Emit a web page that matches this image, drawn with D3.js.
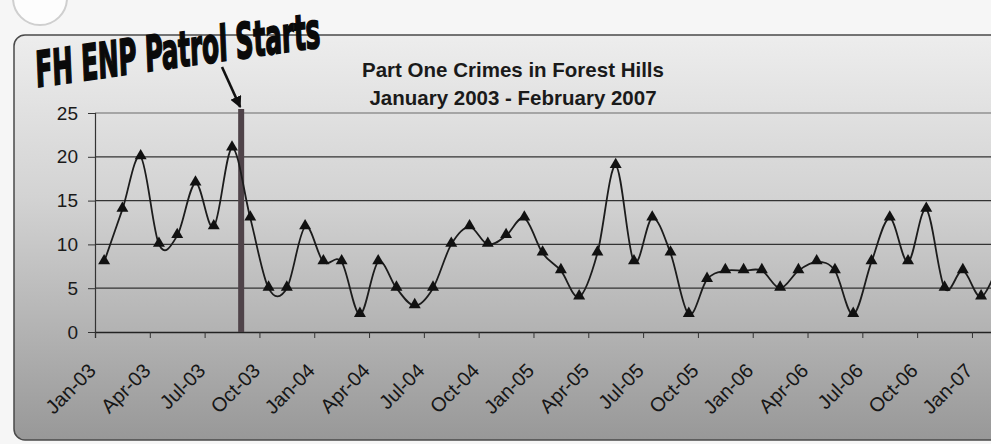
<!DOCTYPE html>
<html lang="en">
<head>
    <meta charset="utf-8">
    <script src="https://cdn.jsdelivr.net/npm/d3@7"></script>
    <style type="text/css">
        body { margin: 0; background: #f6f6f6; }
        svg { display: block; font-family: "Liberation Sans", Arial, sans-serif; }
    </style>
</head>
<body>
    <script>
        // monthly Part One crimes, Jan-03 .. Feb-07
        let months = ["Jan-03","Feb-03","Mar-03","Apr-03","May-03","Jun-03","Jul-03","Aug-03","Sep-03","Oct-03","Nov-03","Dec-03",
                      "Jan-04","Feb-04","Mar-04","Apr-04","May-04","Jun-04","Jul-04","Aug-04","Sep-04","Oct-04","Nov-04","Dec-04",
                      "Jan-05","Feb-05","Mar-05","Apr-05","May-05","Jun-05","Jul-05","Aug-05","Sep-05","Oct-05","Nov-05","Dec-05",
                      "Jan-06","Feb-06","Mar-06","Apr-06","May-06","Jun-06","Jul-06","Aug-06","Sep-06","Oct-06","Nov-06","Dec-06",
                      "Jan-07","Feb-07"];
        let crimes = [8,14,20,10,11,17,12,21,13,5,5,12,
                      8,8,2,8,5,3,5,10,12,10,11,13,
                      9,7,4,9,19,8,13,9,2,6,7,7,
                      7,5,7,8,7,2,8,13,8,14,5,7,
                      4,8];
        let yTicks = [0,5,10,15,20,25];
        let xTickMonths = ["Jan-03","Apr-03","Jul-03","Oct-03","Jan-04","Apr-04","Jul-04","Oct-04",
                           "Jan-05","Apr-05","Jul-05","Oct-05","Jan-06","Apr-06","Jul-06","Oct-06","Jan-07"];
        // patrol began between Aug-03 and Sep-03
        let patrolAfter = "Aug-03";
        let patrolHeight = 25;

        let w = 991;
        let h = 444;
        let svg = d3.select("body")
                    .append("svg")
                    .attr("width", w)
                    .attr("height", h);

        let defs = svg.append("defs");
        let grad = defs.append("linearGradient")
                    .attr("id", "bg")
                    .attr("x1", 0).attr("y1", 0).attr("x2", 0).attr("y2", 1);
        grad.append("stop").attr("offset", "0%").attr("stop-color", "#ededed");
        grad.append("stop").attr("offset", "40%").attr("stop-color", "#d3d3d3");
        grad.append("stop").attr("offset", "100%").attr("stop-color", "#989898");

        // hole punch
        svg.append("circle")
            .attr("cx", 40).attr("cy", -2).attr("r", 27)
            .attr("fill", "#fdfdfd")
            .attr("stroke", "#cfcfcf")
            .attr("stroke-width", 2);

        // frame
        svg.append("rect")
            .attr("x", 14).attr("y", 35)
            .attr("width", 1010).attr("height", 405)
            .attr("rx", 11)
            .attr("fill", "url(#bg)")
            .attr("stroke", "#4a4a4a")
            .attr("stroke-width", 1.5);

        let padLeft = 95, padBottom = 332, padTop = 113, step = 18.27;

        let xScale = d3.scaleLinear()
                        .domain([-0.5, months.length - 0.5])
                        .range([padLeft, padLeft + months.length * step]);
        let yScale = d3.scaleLinear()
                        .domain([0, 25])
                        .range([padBottom, padTop]);

        // gridlines
        svg.append("g")
            .selectAll("line")
            .data(yTicks.slice(1))
            .enter()
            .append("line")
            .attr("x1", padLeft).attr("x2", w)
            .attr("y1", (d) => yScale(d)).attr("y2", (d) => yScale(d))
            .attr("stroke", (d) => d == 25 ? "#6a6a6a" : "#333")
            .attr("stroke-width", 1.2);

        // y axis
        let yAxis = d3.axisLeft(yScale).tickValues(yTicks).tickSize(7).tickPadding(10);
        let gy = svg.append("g")
            .attr("transform", "translate(" + padLeft + ",0)")
            .call(yAxis);
        gy.select(".domain").attr("stroke", "#333").attr("stroke-width", 1.2);
        gy.selectAll(".tick line").attr("stroke", "#333");
        gy.selectAll("text").attr("font-size", "19px").attr("fill", "#1a1a1a");

        // x axis, ticks on month boundaries every quarter
        let xAxis = d3.axisBottom(xScale)
                    .tickValues(xTickMonths.map((m) => months.indexOf(m) - 0.5))
                    .tickSize(6)
                    .tickFormat("");
        let gx = svg.append("g")
            .attr("transform", "translate(0," + padBottom + ")")
            .call(xAxis);
        gx.select(".domain").attr("stroke", "#222").attr("stroke-width", 1.3);
        gx.selectAll(".tick line").attr("stroke", "#333");

        svg.append("g")
            .selectAll("text")
            .data(xTickMonths)
            .enter()
            .append("text")
            .attr("transform", (d) => "translate(" + (xScale(months.indexOf(d) - 0.5) + 2) + "," + (padBottom + 40) + ") rotate(-45)")
            .attr("text-anchor", "end")
            .attr("font-size", "20px")
            .attr("fill", "#161616")
            .text((d) => d);

        // patrol start bar
        let px = (xScale(months.indexOf(patrolAfter)) + xScale(months.indexOf(patrolAfter) + 1)) / 2;
        svg.append("rect")
            .attr("x", px - 3)
            .attr("y", yScale(patrolHeight) - 4)
            .attr("width", 6)
            .attr("height", yScale(0) - yScale(patrolHeight) + 4)
            .attr("fill", "#4f4349");

        // crime line
        let line = d3.line()
                    .x((d, i) => xScale(i))
                    .y((d) => yScale(d))
                    .curve(d3.curveCardinal.tension(0));
        svg.append("path")
            .datum(crimes)
            .attr("d", line)
            .attr("fill", "none")
            .attr("stroke", "#1c1c1c")
            .attr("stroke-width", 1.8);

        svg.append("g")
            .selectAll("path")
            .data(crimes)
            .enter()
            .append("path")
            .attr("transform", (d, i) => "translate(" + xScale(i) + "," + (yScale(d) - 1) + ")")
            .attr("d", d3.symbol().type(d3.symbolTriangle).size(62))
            .attr("fill", "#111");

        // title
        let title = svg.append("text")
            .attr("text-anchor", "middle")
            .attr("font-size", "20.5px")
            .attr("font-weight", "bold")
            .attr("fill", "#1a1a1a");
        title.append("tspan").attr("x", 513).attr("y", 77).text("Part One Crimes in Forest Hills");
        title.append("tspan").attr("x", 513).attr("y", 105).text("January 2003 - February 2007");

        // annotation
        svg.append("text")
            .attr("transform", "translate(38,87) rotate(-8)")
            .attr("font-family", "'Liberation Sans Narrow', 'DejaVu Sans Condensed', sans-serif")
            .attr("font-size", "49px")
            .attr("font-weight", "bold")
            .attr("font-style", "italic")
            .attr("textLength", 287)
            .attr("lengthAdjust", "spacingAndGlyphs")
            .attr("fill", "#0a0a0a")
            .attr("stroke", "#0a0a0a")
            .attr("stroke-width", 1.8)
            .text("FH ENP Patrol Starts");

        defs.append("marker")
            .attr("id", "arrow")
            .attr("viewBox", "0 0 10 10")
            .attr("refX", 9).attr("refY", 5)
            .attr("markerWidth", 4.5).attr("markerHeight", 4.5)
            .attr("orient", "auto")
            .append("path")
            .attr("d", "M0,0 L10,5 L0,10 z")
            .attr("fill", "#111");

        svg.append("line")
            .attr("x1", 222).attr("y1", 67)
            .attr("x2", px - 1).attr("y2", yScale(patrolHeight) - 6)
            .attr("stroke", "#111")
            .attr("stroke-width", 2.6)
            .attr("marker-end", "url(#arrow)");
    </script>
</body>
</html>
